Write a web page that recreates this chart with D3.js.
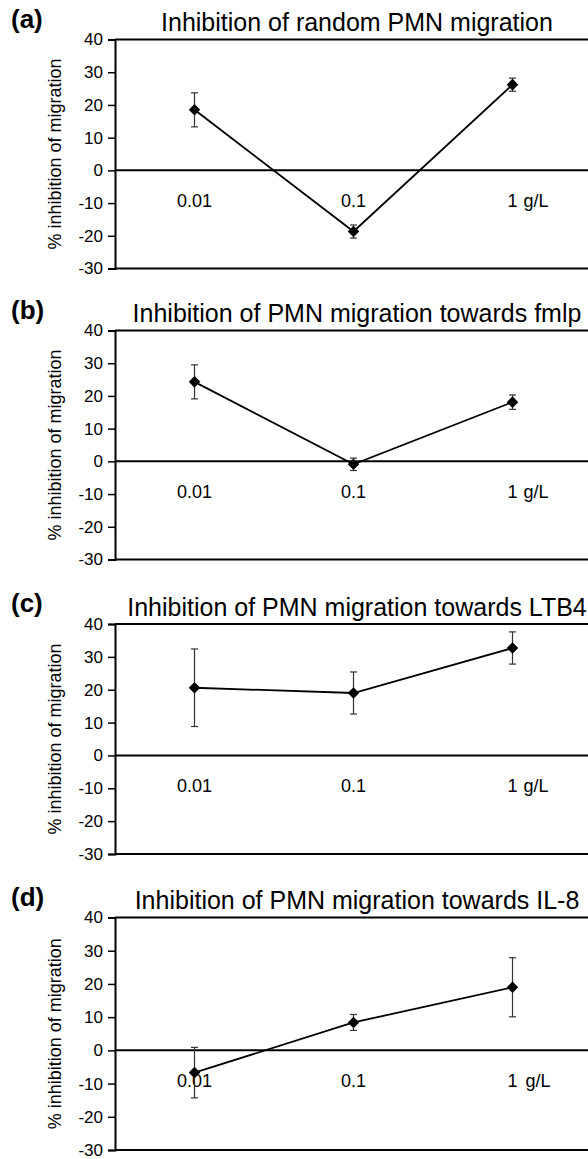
<!DOCTYPE html>
<html>
<head>
<meta charset="utf-8">
<script src="https://cdn.jsdelivr.net/npm/d3@7/dist/d3.min.js"></script>
<style>
  html, body { margin: 0; padding: 0; background: #fff; }
  svg { display: block; font-family: 'Liberation Sans', Arial, sans-serif; }
</style>
</head>
<body>
<script>
// concentrations (g/L) on the x axis
const doses = ['0.01', '0.1', '1']

const panelLetters = ['(a)', '(b)', '(c)', '(d)']
const panelTitles = [
  'Inhibition of random PMN migration',
  'Inhibition of PMN migration towards fmlp',
  'Inhibition of PMN migration towards LTB4',
  'Inhibition of PMN migration towards IL-8'
]

// mean % inhibition and error bar half-length, per panel
const randomMean = [18.5, -18.7, 26.2]
const randomErr  = [5.2, 2.0, 2.0]
const fmlpMean   = [24.3, -0.9, 18.1]
const fmlpErr    = [5.2, 1.9, 2.2]
const ltb4Mean   = [20.6, 19.0, 32.7]
const ltb4Err    = [11.8, 6.4, 4.9]
const il8Mean    = [-6.7, 8.4, 19.0]
const il8Err     = [7.6, 2.4, 8.9]

const yTicks = [-30, -20, -10, 0, 10, 20, 30, 40]
const yLabel = '% inhibition of migration'
const unitLabel = 'g/L'

const means = [randomMean, fmlpMean, ltb4Mean, il8Mean]
const errs = [randomErr, fmlpErr, ltb4Err, il8Err]

// vertical placement of each panel (top / bottom of plot area)
const panelBox = [
  { top: 39.5, bottom: 268.5 },
  { top: 330.5, bottom: 559.5 },
  { top: 624, bottom: 854 },
  { top: 917.5, bottom: 1150 }
]

const width = 588
const height = 1159
const left = 115
const right = 592

const svg = d3.select('body').append('svg')
  .attr('width', width)
  .attr('height', height)

const x = d3.scalePoint()
  .domain(doses)
  .range([left, right])
  .padding(0.5)

panelTitles.forEach((title, i) => {
  const box = panelBox[i]
  const y = d3.scaleLinear()
    .domain([-30, 40])
    .range([box.bottom, box.top])

  const data = doses.map((d, k) => ({ dose: d, v: means[i][k], e: errs[i][k] }))

  const g = svg.append('g')

  // panel letter and title
  g.append('text')
    .attr('x', 11)
    .attr('y', box.top - 12)
    .attr('font-size', 26)
    .attr('font-weight', 'bold')
    .text(panelLetters[i])

  g.append('text')
    .attr('x', 357)
    .attr('y', box.top - 8.5)
    .attr('text-anchor', 'middle')
    .attr('font-size', 25)
    .text(title)

  // frame: top and bottom edges
  g.append('line')
    .attr('x1', left).attr('x2', right)
    .attr('y1', y(40)).attr('y2', y(40))
    .attr('stroke', '#000').attr('stroke-width', 2)
  g.append('line')
    .attr('x1', left).attr('x2', right)
    .attr('y1', y(-30)).attr('y2', y(-30))
    .attr('stroke', '#000').attr('stroke-width', 2)

  // zero line
  g.append('line')
    .attr('x1', left).attr('x2', right)
    .attr('y1', y(0)).attr('y2', y(0))
    .attr('stroke', '#000').attr('stroke-width', 2)

  const axis = g.append('g')
    .attr('transform', `translate(${left},0)`)
    .call(d3.axisLeft(y).tickValues(yTicks).tickSize(7).tickPadding(5).tickFormat(d => String(d)))
  axis.select('.domain').attr('stroke-width', 2)
  axis.selectAll('.tick line').attr('stroke-width', 1.5)
  axis.selectAll('.tick text')
    .attr('font-size', 17)
    .attr('font-family', 'Liberation Sans, Arial, sans-serif')
    .attr('fill', '#000')

  g.append('text')
    .attr('transform', `translate(61,${(box.top + box.bottom) / 2}) rotate(-90)`)
    .attr('text-anchor', 'middle')
    .attr('font-size', 18)
    .text(yLabel)

  // category labels sit below the zero line
  g.selectAll('.cat')
    .data(doses)
    .enter().append('text')
    .attr('class', 'cat')
    .attr('x', d => x(d))
    .attr('y', y(0) + 37)
    .attr('text-anchor', 'middle')
    .attr('font-size', 18)
    .text(d => d)

  g.append('text')
    .attr('x', x('1') + (i === 3 ? 13 : 11))
    .attr('y', y(0) + 37)
    .attr('font-size', 18)
    .text(unitLabel)

  // error bars
  const eb = g.selectAll('.err')
    .data(data)
    .enter().append('g')
    .attr('class', 'err')
    .attr('stroke', '#333')
    .attr('stroke-width', 1.2)
  eb.append('line')
    .attr('x1', d => x(d.dose)).attr('x2', d => x(d.dose))
    .attr('y1', d => y(d.v + d.e)).attr('y2', d => y(d.v - d.e))
  eb.append('line')
    .attr('x1', d => x(d.dose) - 3.5).attr('x2', d => x(d.dose) + 3.5)
    .attr('y1', d => y(d.v + d.e)).attr('y2', d => y(d.v + d.e))
  eb.append('line')
    .attr('x1', d => x(d.dose) - 3.5).attr('x2', d => x(d.dose) + 3.5)
    .attr('y1', d => y(d.v - d.e)).attr('y2', d => y(d.v - d.e))

  // connecting line
  g.append('path')
    .datum(data)
    .attr('fill', 'none')
    .attr('stroke', '#000')
    .attr('stroke-width', 1.8)
    .attr('d', d3.line().x(d => x(d.dose)).y(d => y(d.v)))

  // diamond markers
  g.selectAll('.pt')
    .data(data)
    .enter().append('path')
    .attr('class', 'pt')
    .attr('transform', d => `translate(${x(d.dose)},${y(d.v)})`)
    .attr('d', d3.symbol(d3.symbolDiamond2, 85))
    .attr('fill', '#000')
})
</script>
</body>
</html>
